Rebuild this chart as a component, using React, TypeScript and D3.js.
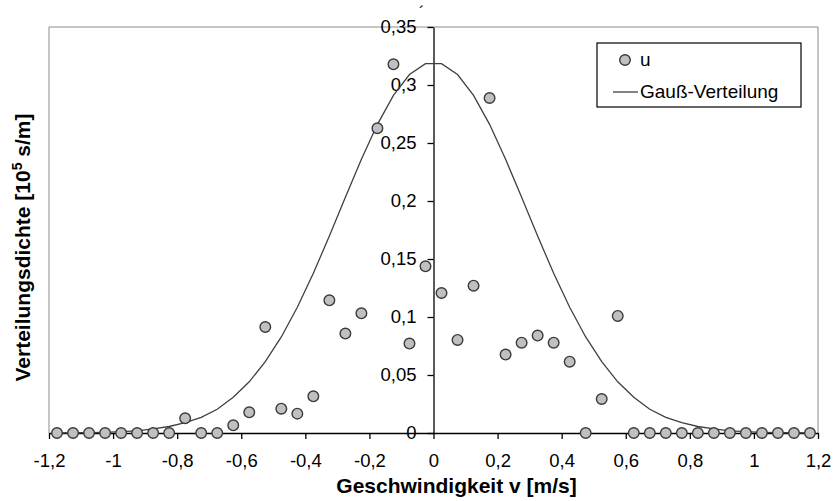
import React, { useEffect, useRef } from 'react'
import * as d3 from 'd3'

// bin centres of the velocity histogram [m/s]
const velocities = [
  -1.175, -1.125, -1.075, -1.025, -0.975, -0.925, -0.875, -0.825, -0.775, -0.725, -0.675, -0.625,
  -0.575, -0.525, -0.475, -0.425, -0.375, -0.325, -0.275, -0.225, -0.175, -0.125, -0.075, -0.025,
  0.025, 0.075, 0.125, 0.175, 0.225, 0.275, 0.325, 0.375, 0.425, 0.475, 0.525, 0.575,
  0.625, 0.675, 0.725, 0.775, 0.825, 0.875, 0.925, 0.975, 1.025, 1.075, 1.125, 1.175
]

// measured density "u"
const uValues = [
  0, 0, 0, 0, 0, 0, 0, 0, 0.0127, 0, 0, 0.0066,
  0.0178, 0.0914, 0.021, 0.0167, 0.0316, 0.1144, 0.0857, 0.1032, 0.2627, 0.3178, 0.0771, 0.1437,
  0.1207, 0.0802, 0.127, 0.2888, 0.0676, 0.0779, 0.084, 0.0779, 0.0615, 0, 0.0293, 0.1009,
  0, 0, 0, 0, 0, 0, 0, 0, 0, 0, 0, 0
]

// Gauss-Verteilung curve, read at the same bin centres
const gaussValues = [
  0.0001, 0.0002, 0.0003, 0.0006, 0.0011, 0.0019, 0.0035, 0.0056, 0.009, 0.0135, 0.0205, 0.0309,
  0.0441, 0.0616, 0.0828, 0.1084, 0.1377, 0.1698, 0.2032, 0.236, 0.2661, 0.2911, 0.309, 0.3184,
  0.3184, 0.309, 0.2911, 0.2661, 0.236, 0.2032, 0.1698, 0.1377, 0.1084, 0.0828, 0.0616, 0.0441,
  0.0309, 0.0205, 0.0135, 0.009, 0.0056, 0.0035, 0.0019, 0.0011, 0.0006, 0.0003, 0.0002, 0.0001
]

const xTicks = [-1.2, -1, -0.8, -0.6, -0.4, -0.2, 0, 0.2, 0.4, 0.6, 0.8, 1, 1.2]
const yTicks = [0, 0.05, 0.1, 0.15, 0.2, 0.25, 0.3, 0.35]

const W = 833
const H = 501
const FONT = "'Liberation Sans', Arial, sans-serif"

const fmt = (d: number) => String(+d.toFixed(2)).replace('.', ',')

export default function App() {
  const ref = useRef<SVGSVGElement>(null)

  useEffect(() => {
    const svg = d3.select(ref.current)
    svg.selectAll('*').remove()

    const left = 49, right = 818, top = 27, bottom = 433

    const x = d3.scaleLinear().domain([-1.2, 1.2]).range([left, right])
    const y = d3.scaleLinear().domain([0, 0.35]).range([bottom, top])

    // grey frame of the plot area
    svg.append('path')
      .attr('d', `M${left},${bottom}V${top}H${right}V${bottom}`)
      .attr('fill', 'none')
      .attr('stroke', '#8c8c8c')
      .attr('stroke-width', 1)

    const xAxis = svg.append('g')
      .attr('transform', `translate(0,${bottom})`)
      .call(d3.axisBottom(x).tickValues(xTicks).tickFormat(d => fmt(+d))
        .tickSizeInner(6).tickSizeOuter(0).tickPadding(15))
    xAxis.select('.domain').attr('stroke', '#000').attr('stroke-width', 1.3)
    xAxis.selectAll('line').attr('stroke', '#000').attr('stroke-width', 1.3)
    xAxis.selectAll('text')
      .attr('font-family', FONT).attr('font-size', 18.5).attr('fill', '#000')

    const yAxis = svg.append('g')
      .attr('transform', `translate(${x(0)},0)`)
      .call(d3.axisLeft(y).tickValues(yTicks).tickFormat(d => fmt(+d))
        .tickSizeInner(6).tickSizeOuter(0).tickPadding(11))
    yAxis.select('.domain').attr('stroke', '#000').attr('stroke-width', 1.3)
    yAxis.selectAll('line').attr('stroke', '#000').attr('stroke-width', 1.3)
    yAxis.selectAll('text')
      .attr('font-family', FONT).attr('font-size', 18.5).attr('fill', '#000')

    // stray accent next to 0,35 in the original
    svg.append('text')
      .attr('x', 419).attr('y', 18)
      .attr('font-family', FONT).attr('font-size', 16)
      .text('´')

    const line = d3.line<number>()
      .x((d, i) => x(velocities[i]))
      .y(d => y(d))

    svg.append('path')
      .datum(gaussValues)
      .attr('d', line)
      .attr('fill', 'none')
      .attr('stroke', '#404040')
      .attr('stroke-width', 1.3)

    svg.append('g')
      .selectAll('circle')
      .data(uValues)
      .enter()
      .append('circle')
        .attr('cx', (d, i) => x(velocities[i]))
        .attr('cy', d => y(d))
        .attr('r', 5.3)
        .attr('fill', '#c0c0c0')
        .attr('stroke', '#3a3a3a')
        .attr('stroke-width', 1.4)

    // legend
    const lg = svg.append('g')
    lg.append('rect')
      .attr('x', 597).attr('y', 43).attr('width', 204).attr('height', 64)
      .attr('fill', '#fff').attr('stroke', '#000').attr('stroke-width', 1.2)
    lg.append('circle')
      .attr('cx', 625).attr('cy', 60).attr('r', 5.3)
      .attr('fill', '#c0c0c0').attr('stroke', '#3a3a3a').attr('stroke-width', 1.4)
    lg.append('text')
      .attr('x', 640).attr('y', 66)
      .attr('font-family', FONT).attr('font-size', 19)
      .text('u')
    lg.append('line')
      .attr('x1', 613).attr('x2', 638).attr('y1', 92).attr('y2', 92)
      .attr('stroke', '#404040').attr('stroke-width', 1.3)
    lg.append('text')
      .attr('x', 640).attr('y', 98)
      .attr('font-family', FONT).attr('font-size', 19)
      .text('Gauß-Verteilung')

    // axis titles
    svg.append('text')
      .attr('x', 456.5).attr('y', 493)
      .attr('text-anchor', 'middle')
      .attr('font-family', FONT).attr('font-size', 21).attr('font-weight', 'bold')
      .text('Geschwindigkeit v [m/s]')

    const yt = svg.append('text')
      .attr('transform', 'translate(30,247.5) rotate(-90)')
      .attr('text-anchor', 'middle')
      .attr('font-family', FONT).attr('font-size', 21).attr('font-weight', 'bold')
    yt.append('tspan').text('Verteilungsdichte [10')
    yt.append('tspan').attr('dy', -8).attr('font-size', 14).text('5')
    yt.append('tspan').attr('dy', 8).text(' s/m]')
  }, [])

  return (
    <svg ref={ref} width={W} height={H}
      style={{ position: 'absolute', left: 0, top: 0, background: '#fff' }} />
  )
}
